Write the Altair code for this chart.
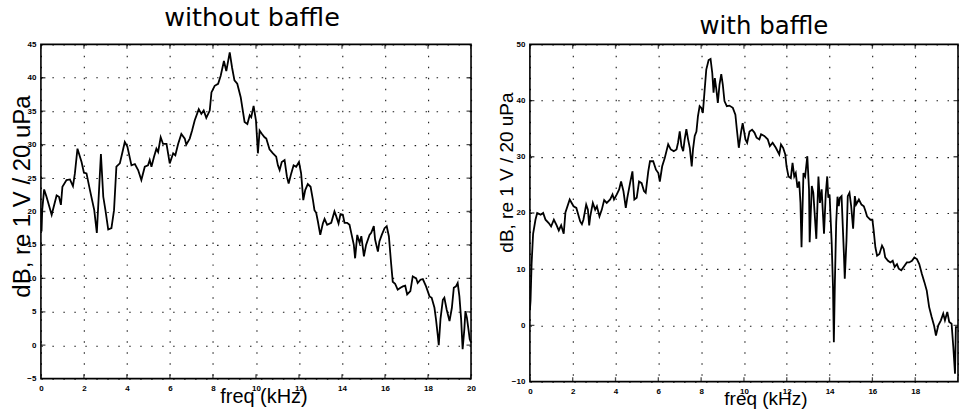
import altair as alt
import pandas as pd

# Frequency response of the transducer, dB re 1 V / 20 uPa, vs frequency in kHz
freq_no_baffle = [
    0.00, 0.03, 0.06, 0.15, 0.26, 0.50, 0.73, 0.84, 0.93, 1.00, 1.19, 1.35, 1.49, 1.58, 1.70,
    1.89, 2.00, 2.12, 2.28, 2.48, 2.60, 2.79, 2.90, 3.00, 3.13, 3.28, 3.40, 3.51, 3.67, 3.78,
    3.90, 4.02, 4.21, 4.37, 4.52, 4.67, 4.83, 4.98, 5.06, 5.14, 5.26, 5.37, 5.45, 5.57, 5.68,
    5.84, 5.99, 6.15, 6.25, 6.38, 6.53, 6.69, 6.76, 6.92, 7.03, 7.15, 7.34, 7.46, 7.57, 7.69,
    7.85, 7.93, 8.08, 8.24, 8.36, 8.51, 8.62, 8.78, 8.89, 9.00, 9.13, 9.29, 9.47, 9.60, 9.71,
    9.78, 9.89, 10.00, 10.09, 10.17, 10.28, 10.40, 10.48, 10.63, 10.79, 10.94, 11.02, 11.10,
    11.20, 11.33, 11.44, 11.52, 11.64, 11.75, 11.87, 12.00, 12.10, 12.20, 12.29, 12.41, 12.54,
    12.65, 12.72, 12.80, 12.88, 12.99, 13.11, 13.19, 13.31, 13.50, 13.65, 13.73, 13.84, 13.93,
    14.04, 14.12, 14.24, 14.35, 14.43, 14.55, 14.61, 14.71, 14.82, 14.90, 15.02, 15.12, 15.28,
    15.36, 15.48, 15.54, 15.67, 15.74, 15.85, 15.98, 16.08, 16.18, 16.28, 16.36, 16.47, 16.59,
    16.72, 16.83, 16.94, 17.03, 17.18, 17.29, 17.45, 17.52, 17.65, 17.76, 17.91, 18.07, 18.17,
    18.30, 18.37, 18.45, 18.50, 18.58, 18.69, 18.76, 18.87, 19.00, 19.11, 19.20, 19.30, 19.38,
    19.46, 19.54, 19.61, 19.69, 19.74, 19.81, 19.88, 19.94, 20.00,
]
db_no_baffle = [
    20.5, 17.0, 20.2, 23.3, 22.2, 19.5, 22.4, 22.2, 21.0, 23.7, 24.7, 24.8, 23.8, 25.7, 29.4,
    27.4, 25.8, 25.7, 23.2, 20.2, 16.8, 28.6, 22.2, 20.2, 17.3, 17.5, 20.2, 26.7, 27.2, 28.7,
    30.4, 29.7, 26.9, 27.1, 26.2, 24.7, 26.7, 26.9, 27.7, 26.7, 28.2, 29.4, 28.9, 31.1, 30.1,
    30.1, 27.2, 28.7, 28.4, 30.1, 31.6, 30.9, 30.0, 30.9, 32.1, 33.6, 35.3, 34.6, 35.1, 34.0,
    35.1, 37.8, 38.8, 39.1, 40.3, 42.5, 41.0, 43.8, 41.5, 39.6, 39.1, 37.1, 33.4, 33.1, 34.4,
    34.1, 35.8, 33.6, 28.7, 32.1, 31.6, 31.1, 30.9, 29.3, 28.7, 28.2, 26.9, 26.2,
    27.4, 27.7, 25.2, 24.2, 25.7, 26.9, 26.7, 27.4, 25.7, 21.7, 23.2, 24.1, 23.7,
    21.7, 20.2, 19.8, 18.5, 16.5, 18.2, 18.9, 18.0, 18.3, 20.0, 19.3, 18.2, 19.6,
    19.5, 18.3, 18.3, 18.0, 16.8, 15.0, 13.0, 16.5, 15.3, 16.3, 13.3, 15.0, 16.5,
    16.8, 17.8, 15.8, 14.0, 15.5, 16.5, 17.5, 17.8, 16.3, 12.4, 9.5, 9.2, 8.3,
    8.6, 8.8, 8.9, 7.6, 8.1, 10.3, 10.0, 9.3, 9.8, 9.9, 8.8, 7.3, 7.1,
    5.6, 3.9, 1.6, 0.0, 3.9, 6.8, 7.1, 5.3, 3.6, 5.6, 8.6, 8.8, 9.3,
    7.3, 3.9, -0.6, 2.4, 5.1, 4.1, 2.4, 0.9, 0.4,
]

freq_baffle = [
    0.00, 0.03, 0.08, 0.15, 0.26, 0.34, 0.50, 0.62, 0.73, 0.88, 0.99, 1.12, 1.24, 1.35, 1.46,
    1.58, 1.66, 1.86, 2.04, 2.17, 2.35, 2.43, 2.50, 2.63, 2.71, 2.77, 2.82, 2.94, 3.05, 3.13,
    3.25, 3.36, 3.47, 3.59, 3.75, 3.86, 3.93, 4.06, 4.17, 4.26, 4.37, 4.48, 4.55, 4.68, 4.79,
    4.88, 4.99, 5.10, 5.22, 5.33, 5.41, 5.53, 5.61, 5.76, 5.89, 6.00, 6.07, 6.18, 6.30, 6.46,
    6.58, 6.72, 6.85, 6.92, 7.00, 7.08, 7.16, 7.23, 7.31, 7.39, 7.47, 7.56, 7.62, 7.70, 7.78,
    7.85, 7.93, 8.01, 8.08, 8.16, 8.24, 8.35, 8.44, 8.52, 8.58, 8.64, 8.71, 8.78, 8.86, 8.94,
    9.01, 9.09, 9.20, 9.32, 9.48, 9.60, 9.67, 9.76, 9.87, 9.94, 10.07, 10.15, 10.26, 10.38,
    10.49, 10.59, 10.72, 10.80, 10.95, 11.11, 11.21, 11.34, 11.49, 11.65, 11.73, 11.83, 11.93,
    11.99, 12.08, 12.19, 12.27, 12.35, 12.42, 12.50, 12.58, 12.64, 12.69, 12.78, 12.86, 12.96,
    13.04, 13.07, 13.17, 13.24, 13.38, 13.48, 13.55, 13.63, 13.74, 13.82, 13.89, 13.94, 14.00,
    14.10, 14.16, 14.20, 14.25, 14.31, 14.37, 14.43, 14.48, 14.56, 14.67, 14.71, 14.79, 14.85,
    14.93, 15.01, 15.10, 15.18, 15.24, 15.37, 15.49, 15.60, 15.68, 15.75, 15.83, 15.91, 16.00,
    16.06, 16.14, 16.22, 16.33, 16.45, 16.53, 16.60, 16.73, 16.84, 16.95, 17.04, 17.15, 17.23,
    17.35, 17.46, 17.61, 17.72, 17.85, 17.96, 18.08, 18.19, 18.31, 18.43, 18.54, 18.65, 18.77,
    18.88, 18.97, 19.08, 19.20, 19.31, 19.39, 19.50, 19.59, 19.70, 19.78, 19.86, 19.90, 20.00,
]
db_baffle = [
    2.7, 4.4, 11.0, 16.3, 18.8, 20.0, 19.7, 20.0, 18.8, 18.2, 17.6, 18.8, 17.9, 16.9, 17.8,
    16.3, 20.1, 22.4, 21.2, 20.9, 18.5, 18.0, 18.8, 21.5, 20.6, 17.8, 19.4, 21.8, 20.6, 21.2,
    19.4, 20.6, 22.3, 21.8, 22.4, 23.3, 22.4, 23.3, 24.2, 25.6, 23.9, 20.9, 22.7, 25.3, 27.4,
    22.4, 22.7, 25.6, 25.3, 23.9, 23.6, 27.4, 29.2, 29.2, 27.7, 27.1, 25.6, 28.3, 29.8, 32.2,
    31.3, 31.0, 31.3, 32.5, 34.5, 31.9, 31.0, 33.1, 34.9, 33.1, 31.6, 28.3, 31.3, 33.7, 34.5,
    37.2, 39.0, 38.7, 37.8, 41.7, 45.5, 47.2, 47.4, 44.9, 41.4, 44.0, 42.0, 39.6, 42.9, 44.7,
    42.9, 39.9, 39.0, 39.1, 38.7, 37.5, 34.8, 31.6, 34.5, 36.0, 33.1, 32.5, 34.5, 34.8,
    34.3, 33.4, 33.1, 34.0, 33.7, 33.1, 31.9, 32.5, 31.6, 30.4, 32.2, 31.6, 30.4,
    28.3, 26.5, 26.2, 28.9, 26.5, 27.1, 24.5, 25.6, 21.8, 13.9, 27.1, 26.5, 30.1,
    24.2, 14.8, 24.8, 23.6, 15.4, 26.5, 21.8, 24.2, 16.3, 23.3, 26.5, 22.7, 23.3,
    14.5, 6.8, -3.0, 8.0, 18.3, 22.9, 21.2, 22.7, 23.0, 12.7, 8.3, 15.1, 23.0,
    23.6, 21.2, 17.2, 23.0, 21.5, 22.4, 21.5, 21.2, 20.3, 19.4, 19.1, 18.8, 18.8,
    16.9, 13.9, 12.4, 12.7, 14.2, 13.6, 12.1, 11.5, 11.2, 11.5, 10.4, 10.9, 10.1,
    9.8, 10.4, 11.2, 11.2, 11.5, 12.1, 11.8, 10.9, 9.2, 7.7, 6.2, 3.3, 1.5,
    0.0, -1.8, 0.0, 0.9, 2.1, 0.9, 2.4, 0.6, 0.3, -3.8, -8.6, -0.3, -0.3,
]

x_ticks = [0, 2, 4, 6, 8, 10, 12, 14, 16, 18, 20]
y_ticks_no_baffle = [-5, 0, 5, 10, 15, 20, 25, 30, 35, 40, 45]
y_ticks_baffle = [-10, 0, 10, 20, 30, 40, 50]

LABEL_FONT = "Liberation Sans"
TITLE_FONT = "DejaVu Sans"
DOTS = [1.5, 9.5]


def panel(freq, db, y_ticks, title, title_size, width, height, title_offset, title_dx,
          xtitle_x, xtitle_y, ytitle_x, ytitle_y, ytitle_size, xtitle_size, hide_last_x=False):
    data = pd.DataFrame({"freq": freq, "db": db})
    xs = alt.Scale(domain=[x_ticks[0], x_ticks[-1]], nice=False, zero=False)
    ys = alt.Scale(domain=[y_ticks[0], y_ticks[-1]], nice=False, zero=False)

    label_expr = "datum.value == 20 ? '' : datum.label" if hide_last_x else "datum.label"
    x_axis = alt.Axis(
        values=x_ticks, grid=True, gridDash=DOTS, gridColor="black", gridWidth=1.1,
        gridOpacity=0.9, ticks=False, domain=False, labelFont=LABEL_FONT,
        labelFontWeight="bold", labelFontSize=8, labelPadding=6, labelFlush=False,
        labelOverlap=False, labelExpr=label_expr, labelColor="black",
        title="freq (kHz)", titleFont=LABEL_FONT, titleFontSize=xtitle_size,
        titleFontWeight="normal", titleBaseline="alphabetic", titleAlign="center",
        titleX=xtitle_x, titleY=xtitle_y, titleColor="black",
    )
    y_axis = alt.Axis(
        values=y_ticks, grid=True, gridDash=DOTS, gridColor="black", gridWidth=1.1,
        gridOpacity=0.9, ticks=False, domain=False, labelFont=LABEL_FONT,
        labelFontWeight="bold", labelFontSize=8, labelPadding=5, labelFlush=False,
        labelOverlap=False, labelColor="black",
        title="dB, re 1 V / 20 uPa", titleFont=LABEL_FONT, titleFontSize=ytitle_size,
        titleFontWeight="normal", titleAngle=270, titleAlign="center",
        titleBaseline="middle", titleX=ytitle_x, titleY=ytitle_y, titleColor="black",
    )
    x_enc = alt.X("freq:Q", scale=xs, axis=x_axis)
    y_enc = alt.Y("db:Q", scale=ys, axis=y_axis)

    curve = alt.Chart(data).mark_line(color="black", strokeWidth=1.8, clip=True).encode(
        x=x_enc, y=y_enc
    )

    # inward tick marks on all four sides of the frame
    xt = pd.DataFrame({
        "freq": x_ticks * 2,
        "db": [y_ticks[0]] * len(x_ticks) + [y_ticks[-1]] * len(x_ticks),
    })
    yt = pd.DataFrame({
        "freq": [x_ticks[0]] * len(y_ticks) + [x_ticks[-1]] * len(y_ticks),
        "db": y_ticks * 2,
    })
    x_marks = alt.Chart(xt).mark_tick(
        orient="vertical", size=9, thickness=1.3, color="black", clip=True
    ).encode(x=x_enc, y=y_enc)
    y_marks = alt.Chart(yt).mark_tick(
        orient="horizontal", size=9, thickness=1.3, color="black", clip=True
    ).encode(x=x_enc, y=y_enc)

    return alt.layer(curve, x_marks, y_marks).properties(
        width=width,
        height=height,
        title=alt.TitleParams(
            title, font=TITLE_FONT, fontSize=title_size, fontWeight="normal", color="black",
            anchor="middle", baseline="alphabetic", offset=title_offset, dx=title_dx,
        ),
    )


left = panel(freq_no_baffle, db_no_baffle, y_ticks_no_baffle, "without baffle", 25.5,
             431, 335, -11, -4, 223, 24, -18, 152, 24, 20)
right = panel(freq_baffle, db_baffle, y_ticks_baffle, "with baffle", 24.5,
              429, 338, -18, 20, 236, 23, -23, 128, 19, 19, hide_last_x=True)

chart = alt.hconcat(left, right, spacing=59, bounds="flush").properties(
    padding={"left": 10, "top": 4, "right": 0, "bottom": 0},
    background="white",
).configure_view(
    stroke="black", strokeWidth=1.6
)

chart.save("out.html", embed_options={"renderer": "svg", "actions": False})
